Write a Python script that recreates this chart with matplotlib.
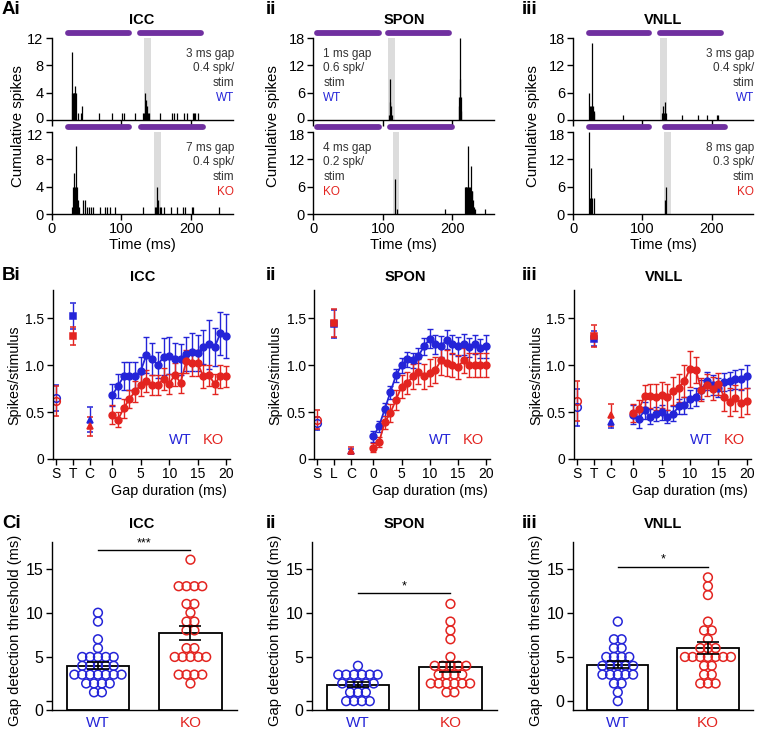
import numpy as np
import matplotlib
matplotlib.use('Agg')
import matplotlib.pyplot as plt
import matplotlib.transforms as mtransforms

plt.rcParams['font.family'] = ['Liberation Sans', 'DejaVu Sans']

BLUE = '#2424d8'
RED = '#e32420'
PURPLE = '#7030a0'
GREY = '#dcdcdc'

# ---------------- A: cumulative spike histograms ----------------
icc_wt_t = [28.7, 29.5, 30.5, 31.5, 32.5, 33.5, 34, 35, 37, 42, 44, 68, 86, 101, 104, 119, 131,
            132.5, 134.5, 135.5, 136.5, 137.5, 139, 155.5, 173, 176, 179.5, 190, 194, 203, 204, 206, 210]
icc_wt_h = [10, 4, 4, 4, 4, 4, 5, 4, 1, 1, 2, 1, 1, 1, 1, 1, 1,
            1, 4, 3, 2, 1, 1, 1, 1, 1, 1, 1, 1, 1, 1, 1, 1]
icc_ko_t = [29, 31, 32, 33, 34.4, 35, 36, 37, 39, 45, 48, 51, 53, 56, 59, 69, 76, 80, 84, 91, 131,
            148, 150, 151, 152, 153, 155, 157, 161, 171, 179, 188, 191, 201, 202, 240]
icc_ko_h = [1, 4, 6, 4, 10, 4, 4, 2, 1, 2, 2, 1, 1, 1, 1, 1, 1, 1, 1, 1, 1,
            1, 1, 4, 2, 1, 1, 1, 1, 1, 1, 1, 1, 1, 1, 1]
spon_wt_t = [109, 110, 111, 112, 113, 209, 210, 210.6, 211.6, 212, 213]
spon_wt_h = [1, 9, 4, 3, 1, 3, 5, 18, 9, 5, 2]
spon_ko_t = [118, 120, 190, 218, 219, 220, 221, 222, 223, 224, 225, 226, 227, 228, 229, 230, 231, 233, 247]
spon_ko_h = [7.7, 1, 1, 6, 6, 6, 6, 15, 6, 6, 5, 6, 10.5, 5, 5, 3, 1.5, 1, 1]
vnll_wt_t = [22.7, 23.5, 24.5, 25.5, 26.5, 27.5, 28.5, 29.5, 30.5, 72, 128.7, 129.5, 130, 131,
             132.5, 133.5, 156.6, 180.7, 193, 208, 210]
vnll_wt_h = [6, 1.5, 3, 3, 2, 17, 3, 2, 1.5, 1, 1.5, 1.5, 3, 1.5, 4, 1.5, 1, 1, 1, 1, 1]
vnll_ko_t = [23, 24, 25, 26.5, 30, 133, 134]
vnll_ko_h = [18, 3.5, 10, 3.5, 3.5, 3, 6]

icc_wt_noise = [(19, 115), (122, 218)]
icc_ko_noise = [(19, 115), (124, 221)]
spon_wt_noise = [(2, 98), (103, 199)]
spon_ko_noise = [(2, 98), (107, 204)]
vnll_wt_noise = [(18, 113), (122, 218)]
vnll_ko_noise = [(18, 113), (128, 223)]
icc_wt_win, icc_ko_win = (132, 142), (147, 157)
spon_wt_win, spon_ko_win = (107.5, 117), (115, 124)
vnll_wt_win, vnll_ko_win = (125, 136), (131, 142)

icc_wt_txt = ['3 ms gap', '0.4 spk/', 'stim']
icc_ko_txt = ['7 ms gap', '0.4 spk/', 'stim']
spon_wt_txt = ['1 ms gap', '0.6 spk/', 'stim']
spon_ko_txt = ['4 ms gap', '0.2 spk/', 'stim']
vnll_wt_txt = ['3 ms gap', '0.4 spk/', 'stim']
vnll_ko_txt = ['8 ms gap', '0.3 spk/', 'stim']

# ---------------- B: spikes per stimulus vs gap ----------------
gap_ms = list(range(21))
icc_ctrl_wt = [0.65, 1.52, 0.42]
icc_ctrl_wt_e = [0.14, 0.14, 0.13]
icc_ctrl_ko = [0.62, 1.31, 0.35]
icc_ctrl_ko_e = [0.16, 0.10, 0.10]
icc_gap_wt = [0.68, 0.78, 0.88, 0.88, 0.88, 0.94, 1.11, 1.07, 1.0, 1.09, 1.10, 1.06, 1.06, 1.12,
              1.14, 1.13, 1.19, 1.22, 1.19, 1.34, 1.31]
icc_gap_wt_e = [0.12, 0.13, 0.15, 0.15, 0.15, 0.15, 0.19, 0.17, 0.14, 0.2, 0.2, 0.18, 0.17, 0.18,
                0.2, 0.19, 0.18, 0.26, 0.2, 0.23, 0.23]
icc_gap_ko = [0.47, 0.42, 0.54, 0.64, 0.72, 0.79, 0.83, 0.79, 0.79, 0.85, 0.80, 0.90, 0.81, 1.04,
              1.02, 1.02, 0.88, 0.89, 0.80, 0.88, 0.88]
icc_gap_ko_e = [0.1, 0.08, 0.1, 0.1, 0.11, 0.12, 0.12, 0.11, 0.11, 0.12, 0.11, 0.12, 0.11, 0.12,
                0.14, 0.14, 0.12, 0.11, 0.11, 0.12, 0.11]

spon_ctrl_wt = [0.38, 1.44, 0.08]
spon_ctrl_wt_e = [0.07, 0.15, 0.03]
spon_ctrl_ko = [0.42, 1.45, 0.09]
spon_ctrl_ko_e = [0.10, 0.15, 0.04]
spon_gap_wt = [0.24, 0.35, 0.53, 0.71, 0.89, 1.0, 1.06, 1.05, 1.10, 1.20, 1.28, 1.22, 1.20, 1.27,
               1.22, 1.20, 1.22, 1.19, 1.22, 1.18, 1.20]
spon_gap_wt_e = [0.06, 0.06, 0.07, 0.07, 0.07, 0.08, 0.08, 0.08, 0.08, 0.09, 0.1, 0.1, 0.11, 0.1,
                 0.1, 0.1, 0.11, 0.1, 0.1, 0.1, 0.12]
spon_gap_ko = [0.12, 0.18, 0.39, 0.49, 0.63, 0.77, 0.81, 0.88, 0.93, 0.88, 0.92, 0.95, 1.05, 1.02,
               1.0, 0.98, 1.05, 1.0, 1.0, 1.0, 1.0]
spon_gap_ko_e = [0.05, 0.05, 0.07, 0.1, 0.11, 0.12, 0.12, 0.13, 0.13, 0.13, 0.14, 0.14, 0.15, 0.14,
                 0.13, 0.13, 0.13, 0.13, 0.13, 0.13, 0.13]

vnll_ctrl_wt = [0.55, 1.28, 0.39]
vnll_ctrl_wt_e = [0.20, 0.08, 0.06]
vnll_ctrl_ko = [0.62, 1.31, 0.47]
vnll_ctrl_ko_e = [0.21, 0.12, 0.12]
vnll_gap_wt = [0.47, 0.43, 0.52, 0.45, 0.48, 0.50, 0.45, 0.48, 0.56, 0.57, 0.64, 0.66, 0.74, 0.83,
               0.79, 0.76, 0.82, 0.83, 0.85, 0.85, 0.88]
vnll_gap_wt_e = [0.1, 0.1, 0.09, 0.08, 0.07, 0.08, 0.07, 0.08, 0.08, 0.09, 0.1, 0.1, 0.1, 0.1,
                 0.11, 0.1, 0.1, 0.1, 0.1, 0.11, 0.12]
vnll_gap_ko = [0.49, 0.53, 0.67, 0.67, 0.66, 0.68, 0.66, 0.72, 0.76, 0.83, 0.96, 0.95, 0.74, 0.79,
               0.75, 0.80, 0.66, 0.61, 0.65, 0.60, 0.62]
vnll_gap_ko_e = [0.1, 0.1, 0.12, 0.13, 0.14, 0.14, 0.14, 0.15, 0.15, 0.17, 0.19, 0.14, 0.12, 0.12,
                 0.12, 0.12, 0.15, 0.15, 0.14, 0.15, 0.14]

# ---------------- C: gap detection thresholds ----------------
icc_thr_wt = [10, 9, 7, 6, 5, 5, 5, 5, 5, 4, 4, 4, 4, 4, 3, 3, 3, 3, 3, 3, 3, 2, 2, 2, 2, 1, 1]
icc_thr_ko = [16, 13, 13, 13, 13, 11, 11, 10, 9, 9, 8, 8, 6, 6, 5, 5, 5, 5, 5, 3, 3, 3, 3, 2]
spon_thr_wt = [4, 3, 3, 3, 3, 3, 3, 2, 2, 2, 2, 2, 1, 1, 1, 0, 0, 0, 0]
spon_thr_ko = [11, 9, 8, 7, 5, 4, 4, 4, 4, 4, 3, 3, 3, 3, 2, 2, 2, 2, 2, 2, 1, 1]
vnll_thr_wt = [9, 7, 7, 6, 6, 5, 5, 5, 5, 4, 4, 4, 4, 4, 3, 3, 3, 3, 3, 2, 2, 1, 0]
vnll_thr_ko = [14, 13, 12, 9, 8, 8, 7, 6, 6, 6, 5, 5, 5, 5, 5, 5, 5, 4, 4, 3, 3, 2, 2, 2]

W, H = 760, 733
fig = plt.figure(figsize=(W / 100, H / 100), dpi=100)


def px_axes(l, t, r, b):
    return fig.add_axes([l / W, 1 - b / H, (r - l) / W, (b - t) / H])


def ftext(x, y, s, **kw):
    fig.text(x / W, 1 - y / H, s, **kw)


def style(ax, fs):
    for s in ['top', 'right']:
        ax.spines[s].set_visible(False)
    for s in ['left', 'bottom']:
        ax.spines[s].set_linewidth(1.0)
    ax.tick_params(direction='out', length=4, width=1.0, labelsize=fs, pad=2)


def nudge(label, dy_px):
    label.set_transform(label.get_transform() +
                        mtransforms.ScaledTranslation(0, dy_px / 100, fig.dpi_scale_trans))


def raster(ax, t, h, noise, win, ymax, lines, geno, gcol, left, lower):
    ax.axvspan(win[0], win[1], color=GREY, lw=0, zorder=0)
    ax.vlines(t, 0, h, color='k', lw=0.9, zorder=2)
    trans = mtransforms.blended_transform_factory(ax.transData, ax.transAxes)
    for a, b in noise:
        ax.plot([a + 4, b - 4], [1.06, 1.06], transform=trans, color=PURPLE, lw=4.2,
                solid_capstyle='round', clip_on=False)
    ax.set_xlim(0, 260)
    ax.set_ylim(0, ymax)
    ax.set_yticks(np.linspace(0, ymax, 4))
    ax.set_xticks([0, 100, 200])
    style(ax, 10.5)
    ylabs = ax.get_yticklabels()
    if lower:
        nudge(ylabs[-1], -2.5)
    else:
        ax.set_xticklabels([])
        nudge(ylabs[0], 2.5)
    xs, ha = (0.055, 'left') if left else (1.005, 'right')
    for yy, s in zip([0.80, 0.63, 0.45], lines):
        ax.text(xs, yy, s, transform=ax.transAxes, ha=ha, va='center', fontsize=8.5, color='#333333')
    ax.text(xs, 0.27, geno, transform=ax.transAxes, ha=ha, va='center', fontsize=8.5, color=gcol)


a_cols = [(51.7, 233), (313.3, 494), (573.3, 753)]
a_data = [
    (icc_wt_t, icc_wt_h, icc_wt_noise, icc_wt_win, icc_wt_txt, icc_ko_t, icc_ko_h, icc_ko_noise, icc_ko_win, icc_ko_txt, 12, False),
    (spon_wt_t, spon_wt_h, spon_wt_noise, spon_wt_win, spon_wt_txt, spon_ko_t, spon_ko_h, spon_ko_noise, spon_ko_win, spon_ko_txt, 18, True),
    (vnll_wt_t, vnll_wt_h, vnll_wt_noise, vnll_wt_win, vnll_wt_txt, vnll_ko_t, vnll_ko_h, vnll_ko_noise, vnll_ko_win, vnll_ko_txt, 18, False),
]
for (l, r), d in zip(a_cols, a_data):
    ax1 = px_axes(l, 38, r, 120)
    raster(ax1, d[0], d[1], d[2], d[3], d[10], d[4], 'WT', BLUE, d[11], False)
    ax2 = px_axes(l, 132, r, 214)
    raster(ax2, d[5], d[6], d[7], d[8], d[10], d[9], 'KO', RED, d[11], True)
    ax2.set_xlabel('Time (ms)', fontsize=10.7, labelpad=1)

# ---------------- B panels ----------------
ctrl_x = [-10, -7, -4]
ctrl_marks = ['o', 's', '^']


def gap_panel(ax, cw, cwe, ck, cke, gw, gwe, gk, gke, mid):
    for cm, ce, gm, ge, col in [(cw, cwe, gw, gwe, BLUE), (ck, cke, gk, gke, RED)]:
        for x, m, e, mk in zip(ctrl_x, cm, ce, ctrl_marks):
            ax.errorbar(x, m, e, marker=mk, ms=5.5 if mk == 'o' else 4.8, color=col,
                        mfc='none' if mk == 'o' else col, mew=1.1, elinewidth=1.0, capsize=2)
        ax.errorbar(gap_ms, gm, ge, fmt='-o', ms=5, color=col, lw=1.3, elinewidth=1.0, capsize=2)
    ax.set_xlim(-10.5, 20.7)
    ax.set_ylim(0, 1.8)
    ax.set_yticks([0, 0.5, 1.0, 1.5], ['0', '0.5', '1.0', '1.5'])
    ax.set_xticks(ctrl_x + [0, 5, 10, 15, 20], ['S', mid, 'C', '0', '5', '10', '15', '20'])
    style(ax, 10)
    ax.set_xlabel('Gap duration (ms)', fontsize=10.3, labelpad=1)
    ax.xaxis.set_label_coords(0.657, -0.15)
    ax.text(0.72, 0.11, 'WT', color=BLUE, fontsize=10.5, transform=ax.transAxes, ha='center', va='center')
    ax.text(0.905, 0.11, 'KO', color=RED, fontsize=10.5, transform=ax.transAxes, ha='center', va='center')


b_cols = [(52.7, 230), (314.3, 490), (573.7, 750.7)]
b_data = [
    (icc_ctrl_wt, icc_ctrl_wt_e, icc_ctrl_ko, icc_ctrl_ko_e, icc_gap_wt, icc_gap_wt_e, icc_gap_ko, icc_gap_ko_e, 'T'),
    (spon_ctrl_wt, spon_ctrl_wt_e, spon_ctrl_ko, spon_ctrl_ko_e, spon_gap_wt, spon_gap_wt_e, spon_gap_ko, spon_gap_ko_e, 'L'),
    (vnll_ctrl_wt, vnll_ctrl_wt_e, vnll_ctrl_ko, vnll_ctrl_ko_e, vnll_gap_wt, vnll_gap_wt_e, vnll_gap_ko, vnll_gap_ko_e, 'T'),
]
for (l, r), d in zip(b_cols, b_data):
    ax = px_axes(l, 290, r, 459)
    gap_panel(ax, *d)

# ---------------- C panels ----------------


def swarm(vals, center, step=0.085):
    vals = np.asarray(vals, dtype=float)
    xs = np.zeros_like(vals)
    for v in np.unique(vals):
        idx = np.where(vals == v)[0]
        n = len(idx)
        xs[idx] = center + (np.arange(n) - (n - 1) / 2) * step
    return xs


def thr_panel(ax, wt, ko, sig_y, sig, zero_low):
    for i, (v, col) in enumerate([(wt, BLUE), (ko, RED)]):
        v = np.asarray(v, dtype=float)
        m = v.mean()
        se = v.std(ddof=1) / np.sqrt(len(v))
        ax.bar(i, m + 1, width=0.68, bottom=-1, facecolor='white', edgecolor='k', lw=1.3, zorder=1)
        ax.scatter(swarm(v, i), v, s=40, facecolors='none', edgecolors=col, linewidths=1.1, zorder=3)
        ax.errorbar(i, m, se, color='k', capsize=8, elinewidth=1.2, capthick=1.2, zorder=4)
    ax.plot([0, 1], [sig_y, sig_y], color='k', lw=1.0)
    ax.text(0.5, sig_y + 0.1, sig, ha='center', va='bottom', fontsize=9)
    ax.set_xlim(-0.5, 1.5)
    ax.set_ylim(-1, 18)
    if zero_low:
        ax.set_yticks([-1, 0, 5, 10, 15], ['0', '', '5', '10', '15'])
    else:
        ax.set_yticks([0, 5, 10, 15])
    ax.set_xticks([0, 1], ['WT', 'KO'])
    style(ax, 11.5)
    ax.tick_params(axis='x', length=0, pad=4, labelsize=11)
    ax.get_xticklabels()[0].set_color(BLUE)
    ax.get_xticklabels()[1].set_color(RED)


c_cols = [(51.7, 236.7), (311.7, 496.7), (572.7, 753)]
c_data = [
    (icc_thr_wt, icc_thr_ko, 17.1, '***', True),
    (spon_thr_wt, spon_thr_ko, 12.2, '*', True),
    (vnll_thr_wt, vnll_thr_ko, 15.2, '*', False),
]
for (l, r), d in zip(c_cols, c_data):
    ax = px_axes(l, 542, r, 710)
    thr_panel(ax, *d)

# ---------------- labels ----------------
for x, y, s in [(2, 10, 'Ai'), (266, 10, 'ii'), (522, 10, 'iii'),
                (2, 275, 'Bi'), (266, 275, 'ii'), (522, 275, 'iii'),
                (2, 524, 'Ci'), (266, 524, 'ii'), (522, 524, 'iii')]:
    ftext(x, y, s, fontsize=13.5, fontweight='bold', ha='left', va='center')

for x, s in [(142, 'ICC'), (404, 'SPON'), (663, 'VNLL')]:
    ftext(x, 20, s, fontsize=10.5, fontweight='bold', ha='center', va='center')
    ftext(x + 1, 277, s, fontsize=10.5, fontweight='bold', ha='center', va='center')
    ftext(x, 524, s, fontsize=10.5, fontweight='bold', ha='center', va='center')

for x in [18, 273, 533]:
    ftext(x, 126, 'Cumulative spikes', fontsize=10.8, rotation=90, ha='center', va='center')
for x in [14, 275, 536]:
    ftext(x, 375, 'Spikes/stimulus', fontsize=10.3, rotation=90, ha='center', va='center')
for x in [15, 275, 536]:
    ftext(x, 630, 'Gap detection threshold (ms)', fontsize=10.6, rotation=90, ha='center', va='center')

fig.savefig('out.png', dpi=100)
